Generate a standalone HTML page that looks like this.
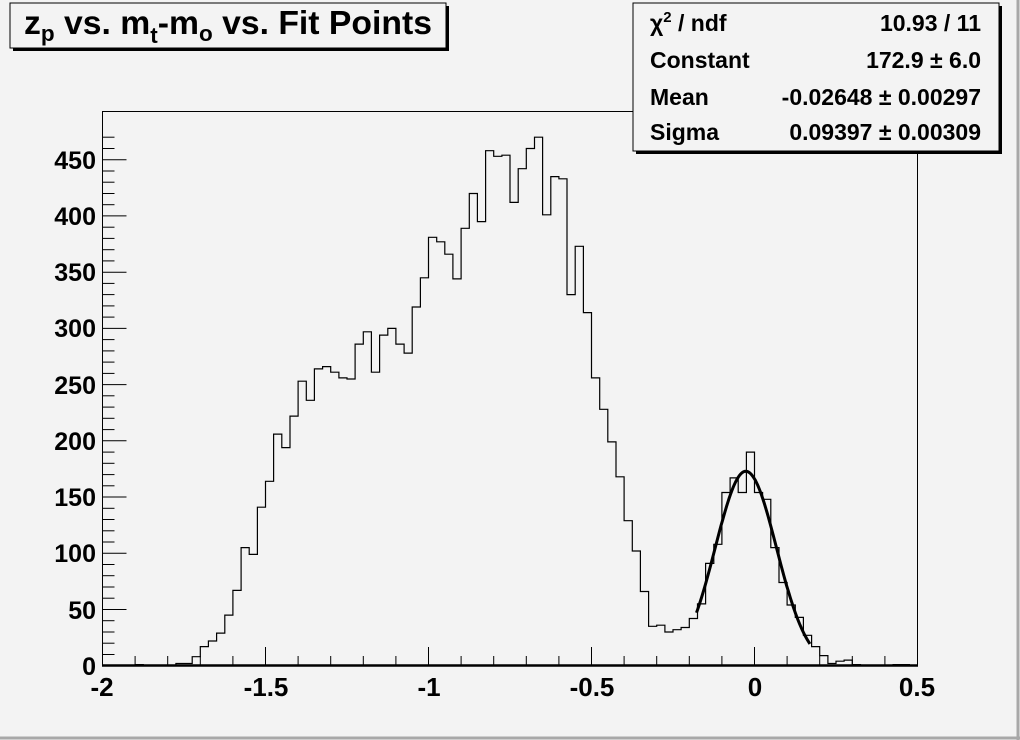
<!DOCTYPE html>
<html><head><meta charset="utf-8"><style>
html,body{margin:0;padding:0;background:#f3f3f3;}
svg{display:block;font-family:"Liberation Sans",sans-serif;font-weight:bold;}
</style></head><body>
<svg id="s" width="1020" height="740" viewBox="0 0 1020 740" xmlns="http://www.w3.org/2000/svg">
<rect x="0" y="0" width="1020" height="740" fill="#f3f3f3"/>
<line x1="1018" y1="0" x2="1018" y2="740" stroke="#a8a8a8" stroke-width="3"/>
<line x1="0" y1="738" x2="1020" y2="738" stroke="#a8a8a8" stroke-width="3"/>
<rect x="102.5" y="111.5" width="815" height="554" fill="none" stroke="#000" stroke-width="1"/>
<g id="ticks" stroke="#000" stroke-width="1"></g>
<path id="hist" fill="none" stroke="#000" stroke-width="1.2"/>
<path id="fit" fill="none" stroke="#000" stroke-width="3"/>
<line x1="102" y1="665.5" x2="918" y2="665.5" stroke="#000" stroke-width="2.5"/>
<g font-size="25" text-anchor="end">
<text x="96" y="675">0</text><text x="96" y="619">50</text><text x="96" y="562">100</text>
<text x="96" y="506">150</text><text x="96" y="450">200</text><text x="96" y="394">250</text>
<text x="96" y="337">300</text><text x="96" y="281">350</text><text x="96" y="225">400</text>
<text x="96" y="169">450</text>
</g>
<g font-size="26" text-anchor="middle">
<text x="102" y="696">-2</text><text x="266" y="696">-1.5</text><text x="429" y="696">-1</text>
<text x="592" y="696">-0.5</text><text x="755" y="696">0</text><text x="917" y="696">0.5</text>
</g>
<rect x="13" y="6" width="436" height="45" fill="#000"/>
<rect x="10" y="3" width="436" height="45" fill="#f3f3f3" stroke="#000" stroke-width="1"/>
<text x="24" y="34" font-size="33" textLength="408" lengthAdjust="spacingAndGlyphs">z<tspan font-size="22" dy="7">p</tspan><tspan dy="-7"> vs. m</tspan><tspan font-size="22" dy="9">t</tspan><tspan dy="-9">-m</tspan><tspan font-size="22" dy="7">o</tspan><tspan dy="-7"> vs. Fit Points</tspan></text>
<rect x="636" y="6" width="366" height="148" fill="#000"/>
<rect x="633" y="3" width="366" height="148" fill="#f3f3f3" stroke="#000" stroke-width="1"/>
<g font-size="23">
<text x="650" y="31">χ<tspan font-size="15" dy="-9">2</tspan><tspan dy="9"> / ndf</tspan></text>
<text x="650" y="68">Constant</text>
<text x="650" y="105">Mean</text>
<text x="650" y="140">Sigma</text>
</g>
<g font-size="23" text-anchor="end">
<text x="981" y="31">10.93 / 11</text>
<text x="981" y="68">172.9 ± 6.0</text>
<text x="981" y="105">-0.02648 ± 0.00297</text>
<text x="981" y="140">0.09397 ± 0.00309</text>
</g>
</svg>
<script>
var c=[0,0,0,0,1,0,0,0,0,2,2,8,17,22,29,45,67,105,99,141,164,206,194,222,253,236,264,266,261,256,255,286,297,261,294,300,286,278,319,345,381,377,366,344,389,420,395,458,453,454,412,442,460,470,401,435,433,330,373,314,256,228,199,168,129,102,66,35,36,30,32,34,42,55,91,108,154,167,154,190,154,148,105,74,54,43,27,17,9,2,4,5,1,0,0,0,0,1,1,0];
var x0=102.5,sx=326,y0=665.7,sy=1.1244,bw=sx*0.025;
var d="M"+x0+" "+y0;
for(var i=0;i<100;i++){var y=(y0-c[i]*sy).toFixed(1);d+=" L"+(x0+i*bw).toFixed(1)+" "+y+" L"+(x0+(i+1)*bw).toFixed(1)+" "+y;}
d+=" L"+(x0+100*bw)+" "+y0;
document.getElementById("hist").setAttribute("d",d);
var f="";
for(var x=-0.178;x<=0.172;x+=0.004){var v=172.9*Math.exp(-0.5*Math.pow((x+0.02648)/0.09397,2));f+=(f?" L":"M")+(x0+(x+2)*sx).toFixed(1)+" "+(y0-v*sy).toFixed(1);}
document.getElementById("fit").setAttribute("d",f);
var t="";
for(var k=0;k<=47;k++){var yy=(y0-k*10*sy).toFixed(1);if(yy<112)break;var L=(k%5==0)?24:12;t+='<line x1="102.5" y1="'+yy+'" x2="'+(102.5+L)+'" y2="'+yy+'"/>';}
for(var k=0;k<=25;k++){var xx=(x0+k*0.1*sx).toFixed(1);var L=(k%5==0)?18:9;t+='<line x1="'+xx+'" y1="665" x2="'+xx+'" y2="'+(665-L)+'"/>';}
document.getElementById("ticks").innerHTML=t;
</script>
</body></html>
